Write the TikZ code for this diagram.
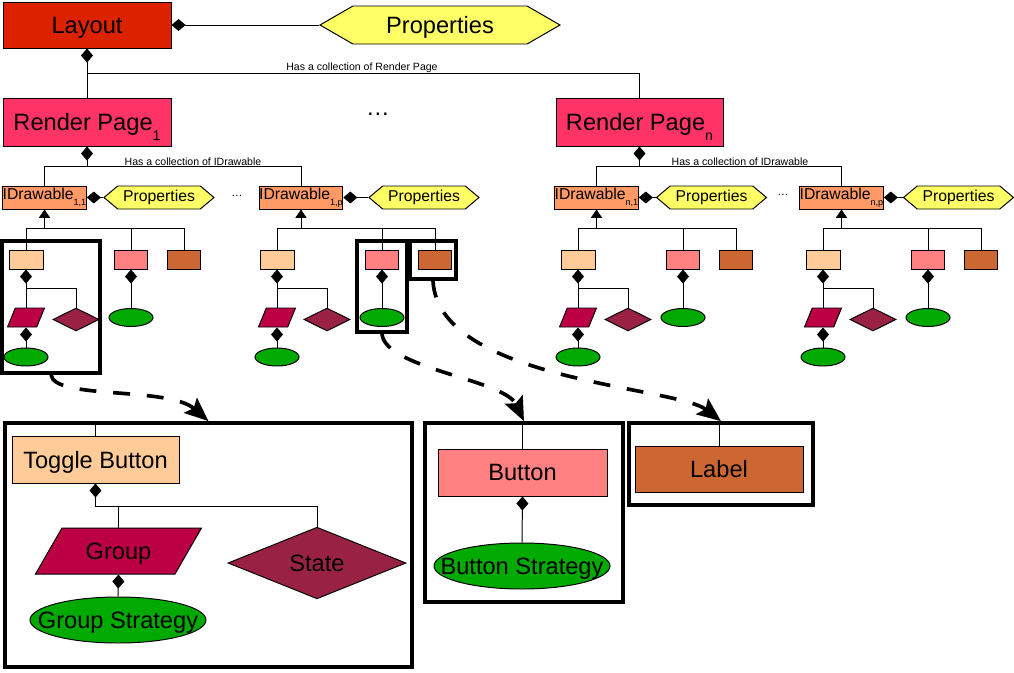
\documentclass[tikz,border=0pt]{standalone}
\usepackage{fontspec}
\setmainfont{Liberation Sans}
\usetikzlibrary{arrows.meta,shapes.geometric,shapes.symbols}

\definecolor{layoutred}{HTML}{DD2200}
\definecolor{pagered}{HTML}{FF3366}
\definecolor{draworange}{HTML}{FF9966}
\definecolor{propyellow}{HTML}{FFFF66}
\definecolor{togglelight}{HTML}{FFCC99}
\definecolor{buttonpink}{HTML}{FF8080}
\definecolor{labelbrown}{HTML}{CC6633}
\definecolor{groupred}{HTML}{BB0044}
\definecolor{statered}{HTML}{992244}
\definecolor{stratgreen}{HTML}{00AA00}

\newcommand\pxl{0.025cm}
\newcommand\bigtxt{\fontsize{16.8}{20}\selectfont}
\newcommand\midtxt{\fontsize{11.2}{13}\selectfont}
\newcommand\tinytxt{\fontsize{7.5}{9}\selectfont}
\newcommand\pagesub[1]{\raisebox{-7pt}{\fontsize{10}{10}\selectfont #1}}
\newcommand\drawsub[1]{\raisebox{-4pt}{\fontsize{6.5}{7}\selectfont #1}}

\tikzset{
	box/.style={draw, rectangle, inner sep=0pt},
	bigtext/.style={font=\bigtxt, text depth=0pt},
	props/.style={draw, signal, signal to=west and east, fill=propyellow, inner sep=0pt},
	zoombox/.style={draw, line width=2.6pt, inner sep=0pt},
	minipar/.style={draw, trapezium, trapezium left angle=70, trapezium right angle=110, trapezium stretches=true, fill=groupred, minimum width=37*\pxl, minimum height=19*\pxl, inner sep=1pt},
	minidia/.style={draw, diamond, fill=statered, minimum width=46*\pxl, minimum height=23*\pxl, inner sep=1pt},
	miniell/.style={draw, ellipse, fill=stratgreen, minimum width=44*\pxl, minimum height=18*\pxl, inner sep=1pt},
	dmd/.tip={Diamond[length=10pt,width=8.5pt]},
	inh/.tip={Triangle[length=6pt,width=8pt]},
	zoomto/.style={line width=2.6pt, dash pattern=on 12pt off 12pt, -{Stealth[length=17pt,width=14pt,inset=3pt]}}
}

\begin{document}
\begin{tikzpicture}[x=\pxl, y=-\pxl, line width=0.7pt]
	\useasboundingbox (0,0) rectangle (1014,672);

	\node[box, fill=layoutred, minimum width=168*\pxl, minimum height=46*\pxl, bigtext] (layout) at (87,25) {Layout};
	\node[props, minimum width=240*\pxl, minimum height=38*\pxl, signal pointer angle=60, bigtext] (lprops) at (440,25) {Properties};
	\draw[dmd-] (layout.east) -- (lprops.west);

	\node[box, fill=pagered, minimum width=168*\pxl, minimum height=48*\pxl, bigtext] (page1) at (87,122) {Render Page\pagesub{1}};
	\node[box, fill=pagered, minimum width=167*\pxl, minimum height=48*\pxl, bigtext] (pagen) at (639.5,122) {Render Page\pagesub{n}};
	\node[font=\bigtxt] (pdots) at (378,114) {\dots};
	\draw[dmd-] (layout.south) -- (page1.north);
	\draw (layout.south |- 0,73) -| (pagen.north);
	\node[font=\tinytxt] (pcoll) at (362,68) {Has a collection of Render Page};

	\foreach \n/\cx/\pc/\s in {a/44.5/159/{1,1}, b/301/424/{1,p}, c/596.5/711.5/{n,1}, d/841.5/958.5/{n,p}}{
			\node[box, fill=draworange, minimum width=82*\pxl, minimum height=23*\pxl, font=\midtxt] (idr\n) at (\cx,197.5) {IDrawable\drawsub{\s}};
			\node[props, minimum width=110*\pxl, minimum height=23*\pxl, signal pointer angle=80, font=\midtxt] (prop\n) at (\pc,197.5) {Properties};
			\draw[dmd-] (idr\n.east) -- (prop\n.west);
		}

	\draw[dmd-] (page1.south) -- ++(0,21);
	\draw (idra.north) -- ++(0,-19) -| (idrb.north);
	\draw[dmd-] (pagen.south) -- ++(0,21);
	\draw (idrc.north) -- ++(0,-19) -| (idrd.north);
	\node[font=\tinytxt] (dcoll1) at (193,162) {Has a collection of IDrawable};
	\node[font=\tinytxt] (dcolln) at (740,162) {Has a collection of IDrawable};
	\node[font=\fontsize{8}{8}\selectfont] (ddots1) at (237,196) {\dots};
	\node[font=\fontsize{8}{8}\selectfont] (ddotsn) at (783,195) {\dots};

	\foreach \n/\x in {a/9, b/260, c/561, d/806}{
			\node[box, fill=togglelight, minimum width=34*\pxl, minimum height=19*\pxl] (lt\n) at (\x+17,259.5) {};
			\node[box, fill=buttonpink, minimum width=33*\pxl, minimum height=19*\pxl] (pk\n) at (\x+122,259.5) {};
			\node[box, fill=labelbrown, minimum width=33*\pxl, minimum height=19*\pxl] (br\n) at (\x+175,259.5) {};
			\node[minipar] (par\n) at (\x+17,317.5) {};
			\node[minidia] (dia\n) at (\x+67,319.5) {};
			\node[miniell] (gs\n) at (\x+17,357) {};
			\node[miniell] (bs\n) at (\x+122,317.5) {};
			\draw[inh-] (idr\n.south) -- ++(0,20);
			\draw (lt\n.north) -- ++(0,-21) -| (br\n.north);
			\draw (pk\n.north) -- ++(0,-21);
			\draw[dmd-] (lt\n.south) -- (par\n.north);
			\draw (par\n.north |- 0,288) -| (dia\n.north);
			\draw[dmd-] (par\n.south) -- (gs\n.north);
			\draw[dmd-] (pk\n.south) -- (bs\n.north);
		}

	\node[zoombox, minimum width=98*\pxl, minimum height=132*\pxl] (fa) at (51,307) {};
	\node[zoombox, minimum width=50*\pxl, minimum height=91*\pxl] (fpk) at (382,286.5) {};
	\node[zoombox, minimum width=46*\pxl, minimum height=38*\pxl] (fbr) at (433,260) {};

	\node[zoombox, minimum width=407*\pxl, minimum height=244*\pxl] (tgf) at (208.5,545) {};
	\node[zoombox, minimum width=198*\pxl, minimum height=179*\pxl] (btf) at (524,512.5) {};
	\node[zoombox, minimum width=184*\pxl, minimum height=82*\pxl] (lbf) at (721,464) {};

	\node[box, fill=togglelight, minimum width=167*\pxl, minimum height=47*\pxl, bigtext] (tog) at (95.5,459.5) {Toggle Button};
	\node[draw, trapezium, trapezium left angle=47, trapezium right angle=133, trapezium stretches=true, fill=groupred, minimum width=167*\pxl, minimum height=46*\pxl, inner sep=0pt, bigtext] (grp) at (118.5,551) {Group};
	\node[draw, ellipse, fill=stratgreen, minimum width=176*\pxl, minimum height=46*\pxl, inner sep=0pt, bigtext] (gst) at (118,620) {\makebox[0pt]{Group Strategy}};
	\node[draw, diamond, fill=statered, minimum width=178*\pxl, minimum height=70*\pxl, inner sep=0pt, bigtext] (state) at (317,563) {State};
	\draw (tog.north) -- (tog.north |- tgf.north);
	\draw[dmd-] (tog.south) |- (state.north |- 0,506) -- (state.north);
	\draw (grp.north) -- (grp.north |- 0,506);
	\draw[dmd-] (grp.south) -- (gst.north);

	\node[box, fill=buttonpink, minimum width=169*\pxl, minimum height=47*\pxl, bigtext] (btn) at (522.5,472.5) {Button};
	\node[draw, ellipse, fill=stratgreen, minimum width=176*\pxl, minimum height=46*\pxl, inner sep=0pt, bigtext] (bst) at (522,566) {\makebox[0pt]{Button Strategy}};
	\draw (btn.north) -- (btn.north |- btf.north);
	\draw[dmd-] (btn.south) -- (bst.north);

	\node[box, fill=labelbrown, minimum width=168*\pxl, minimum height=46*\pxl, bigtext] (lbl) at (719,469) {Label};
	\draw (lbl.north) -- (lbl.north |- lbf.north);

	\draw[zoomto] (fa.south) .. controls +(3,25) and +(-40,-35) .. (tgf.north);
	\draw[zoomto] (fpk.south) .. controls +(3,35) and +(-20,-42) .. (btf.north);
	\draw[zoomto] (fbr.south) .. controls +(5,100) and +(-45,-35) .. (lbf.north);
\end{tikzpicture}
\end{document}
